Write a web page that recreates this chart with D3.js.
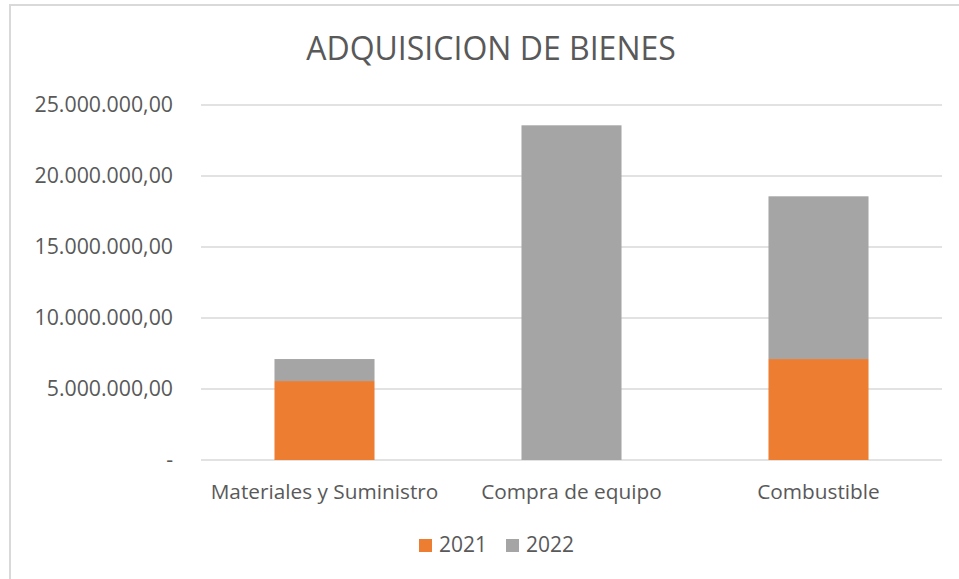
<!DOCTYPE html>
<html>
<head>
<meta charset="utf-8">
<script src="https://cdn.jsdelivr.net/npm/d3@7"></script>
<style>
  body { margin: 0; background: #fff; }
  svg text { font-family: "Open Sans", sans-serif; fill: #595959; }
</style>
</head>
<body>
<svg id="chart" width="959" height="579"></svg>
<script>
// data
var categories = ["Materiales y Suministro", "Compra de equipo", "Combustible"];
var years = ["2021", "2022"];
var values2021 = [5560000, 0, 7110000];
var values2022 = [1550000, 23570000, 11460000];
var tickValues = [0, 5000000, 10000000, 15000000, 20000000, 25000000];
var colors = ["#ED7D31", "#A5A5A5"];

var svg = d3.select("#chart");

// frame
svg.append("rect")
  .attr("x", 10).attr("y", 5)
  .attr("width", 1000).attr("height", 1000)
  .attr("fill", "none")
  .attr("stroke", "#d9d9d9")
  .attr("stroke-width", 2);

// title
svg.append("text")
  .attr("x", 491).attr("y", 60)
  .attr("text-anchor", "middle")
  .style("font-size", "32px")
  .text("ADQUISICION DE BIENES");

var x = d3.scaleBand().domain(categories).range([201, 942])
  .paddingInner(0.595).paddingOuter(0.2975);
var y = d3.scaleLinear().domain([0, 25000000]).range([460, 105]);

var locale = d3.formatLocale({decimal: ",", thousands: ".", grouping: [3], currency: ["", ""]});
var fmt = locale.format(",.2f");

// gridlines
svg.append("g").selectAll("line").data(tickValues)
  .enter().append("line")
  .attr("x1", 201).attr("x2", 942)
  .attr("y1", function(d){ return y(d); })
  .attr("y2", function(d){ return y(d); })
  .attr("stroke", "#d9d9d9")
  .attr("stroke-width", 1.5);

// y axis labels
var yAxis = d3.axisLeft(y).tickValues(tickValues).tickSize(0).tickPadding(0)
  .tickFormat(function(d){ return d === 0 ? "-" : fmt(d); });
var ga = svg.append("g").attr("transform", "translate(173,0)").call(yAxis);
ga.select(".domain").remove();
ga.selectAll("text").style("font-size", "21.3px").attr("fill", "#595959")
  .style("font-family", "'Open Sans', sans-serif");

// stacked bars
var rows = categories.map(function(c, i){ return {cat: c, "2021": values2021[i], "2022": values2022[i]}; });
var stack = d3.stack().keys(years)(rows);

svg.append("g").selectAll("g").data(stack)
  .enter().append("g")
  .attr("fill", function(d, i){ return colors[i]; })
  .selectAll("rect").data(function(d){ return d; })
  .enter().append("rect")
  .attr("x", function(d){ return x(d.data.cat); })
  .attr("width", x.bandwidth())
  .attr("y", function(d){ return y(d[1]); })
  .attr("height", function(d){ return y(d[0]) - y(d[1]); });

// category labels
svg.append("g").selectAll("text").data(categories)
  .enter().append("text")
  .attr("x", function(d){ return x(d) + x.bandwidth() / 2; })
  .attr("y", 499)
  .attr("text-anchor", "middle")
  .style("font-size", "20.8px")
  .text(function(d){ return d; });

// legend
var legend = svg.append("g").selectAll("g").data(years)
  .enter().append("g")
  .attr("transform", function(d, i){ return "translate(" + (419 + i * 87) + ",539)"; });
legend.append("rect")
  .attr("width", 13).attr("height", 13)
  .attr("fill", function(d, i){ return colors[i]; });
legend.append("text")
  .attr("x", 20).attr("y", 13)
  .style("font-size", "21px")
  .text(function(d){ return d; });
</script>
</body>
</html>
